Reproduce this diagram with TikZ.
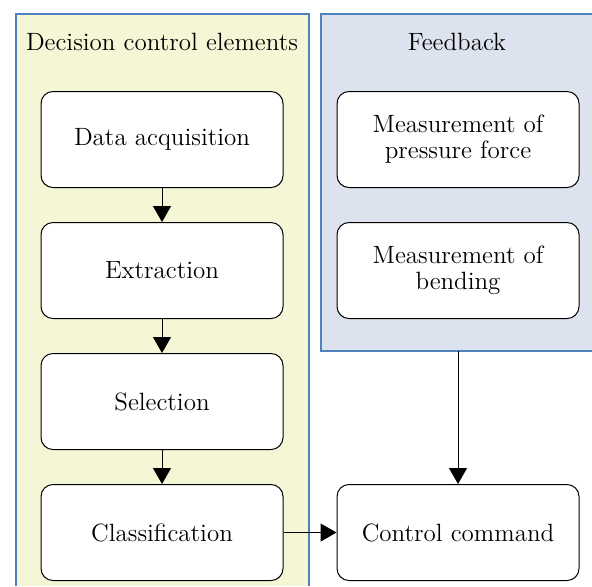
\documentclass[tikz,border=0pt]{standalone}
\usepackage{xcolor}
\usepackage{tikz}
\usetikzlibrary{positioning,arrows.meta}

\definecolor{panelyellow}{HTML}{F5F6D5}
\definecolor{panelblue}{HTML}{DCE3EE}
\definecolor{panelline}{HTML}{4F81BD}

\tikzset{
  stage/.style={draw=black, line width=0.5pt, fill=white, rounded corners=6pt,
    minimum width=121pt, minimum height=48pt, align=center, inner sep=2pt},
  flow/.style={-{Triangle[width=9pt,length=8pt]}, line width=0.5pt},
  paneltitle/.style={inner sep=0pt}
}

\begin{document}
\begin{tikzpicture}[x=0.5pt,y=-0.5pt,font=\fontsize{12.5}{13}\selectfont]
  \useasboundingbox (0,0) rectangle (592,586);

  % the two background panels
  \fill[panelyellow] (16,14) rectangle (309,586);
  \draw[panelline, line width=0.6pt] (16,586) -- (16,14) -- (309,14) -- (309,586);
  \fill[panelblue] (321,14) rectangle (592,351);
  \draw[panelline, line width=0.6pt] (592,14) -- (321,14) -- (321,351) -- (592,351);
  \coordinate (fbout) at (457,351);

  \node[paneltitle] (dectitle) at (162,42) {Decision control elements};
  \node[paneltitle] (fbtitle) at (457,42) {Feedback};

  % decision chain
  \node[stage] (acq) at (162,139.5) {Data acquisition};
  \node[stage, below=17pt of acq] (ext) {Extraction};
  \node[stage, below=17pt of ext] (sel) {Selection};
  \node[stage, below=17pt of sel] (cls) {Classification};

  % feedback measurements and output
  \node[stage, right=26.5pt of acq] (press) {Measurement of\\pressure force};
  \node[stage, right=26.5pt of ext] (bend) {Measurement of\\bending};
  \node[stage, right=26.5pt of cls] (ctrl) {Control command};

  \draw[flow] (acq) -- (ext);
  \draw[flow] (ext) -- (sel);
  \draw[flow] (sel) -- (cls);
  \draw[flow] (cls) -- (ctrl);
  \draw[flow] (ctrl.north |- fbout) -- (ctrl.north);
\end{tikzpicture}
\end{document}
